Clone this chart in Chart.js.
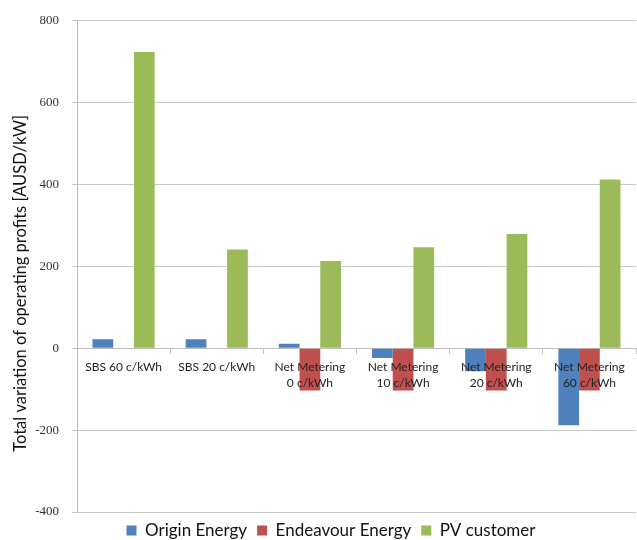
<!DOCTYPE html>
<html>
<head>
<meta charset="utf-8">
<script src="https://cdn.jsdelivr.net/npm/chart.js@4"></script>
<style>
  html, body { margin: 0; padding: 0; background: #fff; }
  #wrap { width: 637px; height: 540px; }
</style>
</head>
<body>
<div id="wrap"><canvas id="profitChart"></canvas></div>
<script>

    const categories = [
        "SBS 60 c/kWh",
        "SBS 20 c/kWh",
        ["Net Metering", "0 c/kWh"],
        ["Net Metering", "10 c/kWh"],
        ["Net Metering", "20 c/kWh"],
        ["Net Metering", "60 c/kWh"]
    ];
    const originEnergy = [22, 22, 11, -24, -56, -188];
    const endeavourEnergy = [0, 0, -103, -103, -103, -103];
    const pvCustomer = [724, 241, 213, 247, 279, 412];
    const yTicks = [-400, -200, 0, 200, 400, 600, 800];

    const chart = document.getElementById("profitChart");

    new Chart(chart, {
        type: "bar",
        data: {
            labels: categories,
            datasets: [
                { label: "Origin Energy", data: originEnergy, backgroundColor: "#4f81bd" },
                { label: "Endeavour Energy", data: endeavourEnergy, backgroundColor: "#c0504d" },
                { label: "PV customer", data: pvCustomer, backgroundColor: "#9bbb59" }
            ]
        },
        options: {
            responsive: true,
            maintainAspectRatio: false,
            animation: false,
            // extra left padding pushes the legend right, like the original
            layout: { padding: { top: 20, right: 1, left: 26, bottom: -9 } },
            datasets: {
                bar: { categoryPercentage: 0.667, barPercentage: 1 }
            },
            scales: {
                x: {
                    position: { y: 0 },
                    grid: {
                        drawOnChartArea: false,
                        tickLength: 5,
                        color: "#bfbfbf"
                    },
                    border: { color: "#bfbfbf" },
                    ticks: {
                        z: 1,
                        color: "#222",
                        font: { family: "Lato", size: 12, lineHeight: 1.4 },
                        maxRotation: 0,
                        autoSkip: false,
                        padding: 5
                    }
                },
                y: {
                    min: -400,
                    max: 800,
                    afterBuildTicks: (axis) => { axis.ticks = yTicks.map(v => ({ value: v })); },
                    afterFit: (axis) => { axis.width = 51; },
                    grid: { color: "#c8c8c8", tickLength: 5 },
                    border: { color: "#bfbfbf" },
                    ticks: {
                        color: "#333",
                        font: { family: "Liberation Serif", size: 13 },
                        padding: 13
                    },
                    title: {
                        display: true,
                        text: "Total variation of operating profits [AUSD/kW]        ",
                        color: "#111",
                        font: { family: "Lato", size: 16.5 },
                        padding: { top: -15, bottom: 0 }
                    }
                }
            },
            plugins: {
                tooltip: { enabled: false },
                legend: {
                    position: "bottom",
                    labels: {
                        color: "#111",
                        font: { family: "Lato", size: 17 },
                        boxWidth: 10,
                        boxHeight: 10,
                        padding: 10
                    }
                }
            }
        }
    });

</script>
</body>
</html>
